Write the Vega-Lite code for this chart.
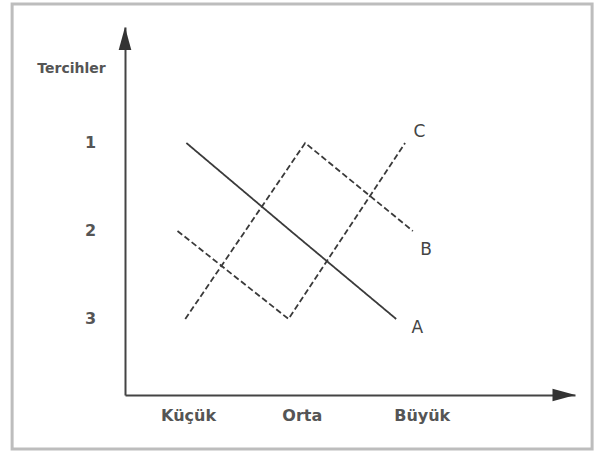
{
  "$schema": "https://vega.github.io/schema/vega-lite/v6.json",
  "width": 450,
  "height": 368,
  "autosize": {"type": "none"},
  "padding": {"left": 125, "top": 27, "right": 20, "bottom": 61},
  "background": "white",
  "config": {
    "view": {"stroke": null},
    "font": "DejaVu Sans",
    "text": {"font": "DejaVu Sans"},
    "axis": {"grid": false, "ticks": false, "tickSize": 0, "domainColor": "#444444", "domainWidth": 2}
  },
  "datasets": {
    "frame": [{"x": -0.54, "x2": 4.685, "y": -0.58, "y2": 4.477}],
    "lines": [
      {"seri": "A", "x": 1.03, "y": 1},
      {"seri": "A", "x": 1.97, "y": 2},
      {"seri": "A", "x": 2.92, "y": 3},
      {"seri": "B", "x": 1.02, "y": 3},
      {"seri": "B", "x": 2.10, "y": 1},
      {"seri": "B", "x": 3.07, "y": 2},
      {"seri": "C", "x": 0.95, "y": 2},
      {"seri": "C", "x": 1.95, "y": 3},
      {"seri": "C", "x": 3.00, "y": 1}
    ],
    "labels": [
      {"seri": "A", "x": 3.11, "y": 3.10},
      {"seri": "B", "x": 3.19, "y": 2.22},
      {"seri": "C", "x": 3.13, "y": 0.875}
    ],
    "upArrow": [{"x": 0.477, "y": -0.1875}],
    "rightArrow": [{"x": 4.432, "y": 3.864}]
  },
  "encoding": {
    "x": {
      "field": "x", "type": "quantitative",
      "scale": {"domain": [0.477, 4.531], "nice": false, "zero": false},
      "axis": {
        "title": null,
        "values": [1.045, 2.07, 3.15],
        "labelExpr": "datum.value < 1.5 ? 'Küçük' : (datum.value < 2.5 ? 'Orta' : 'Büyük')",
        "domain": true, "domainColor": "#444444", "domainWidth": 2,
        "ticks": false, "tickSize": 0, "grid": false,
        "labelPadding": 12, "labelFontSize": 16, "labelFontWeight": "bold", "labelColor": "#555555", "labelFont": "DejaVu Sans"
      }
    },
    "y": {
      "field": "y", "type": "quantitative",
      "scale": {"domain": [-0.318, 3.864], "reverse": true, "nice": false, "zero": false},
      "axis": {
        "title": "Tercihler",
        "titleAngle": 0, "titleX": -54, "titleY": 41, "titleAlign": "center", "titleBaseline": "middle",
        "titleFontSize": 14, "titleFontWeight": "bold", "titleColor": "#555555", "titleFont": "DejaVu Sans",
        "values": [1, 2, 3], "format": "d",
        "domain": true, "domainColor": "#444444", "domainWidth": 2,
        "ticks": false, "tickSize": 0, "grid": false,
        "labelPadding": 35, "labelAlign": "center", "labelFontSize": 16, "labelFontWeight": "bold", "labelColor": "#555555", "labelFont": "DejaVu Sans"
      }
    }
  },
  "layer": [
    {
      "data": {"name": "frame"},
      "mark": {"type": "rect", "fill": null, "stroke": "#bdbdbd", "strokeWidth": 3, "clip": false},
      "encoding": {
        "x2": {"field": "x2"},
        "y2": {"field": "y2"}
      }
    },
    {
      "data": {"name": "lines"},
      "mark": {"type": "line", "color": "#3a3a3a", "strokeWidth": 1.8, "clip": false},
      "encoding": {
        "detail": {"field": "seri"},
        "strokeDash": {
          "field": "seri", "type": "nominal",
          "scale": {"domain": ["A", "B", "C"], "range": [[1, 0], [6, 3], [6, 3]]},
          "legend": null
        }
      }
    },
    {
      "data": {"name": "labels"},
      "mark": {"type": "text", "fontSize": 17, "color": "#444444", "clip": false},
      "encoding": {
        "text": {"field": "seri"}
      }
    },
    {
      "data": {"name": "upArrow"},
      "mark": {"type": "point", "shape": "M0,-1L0.55,1L-0.55,1Z", "size": 529, "filled": true, "color": "#333333", "opacity": 1, "clip": false},
      "encoding": {}
    },
    {
      "data": {"name": "rightArrow"},
      "mark": {"type": "point", "shape": "M1,0L-1,-0.55L-1,0.55Z", "size": 529, "filled": true, "color": "#333333", "opacity": 1, "clip": false},
      "encoding": {}
    }
  ]
}
